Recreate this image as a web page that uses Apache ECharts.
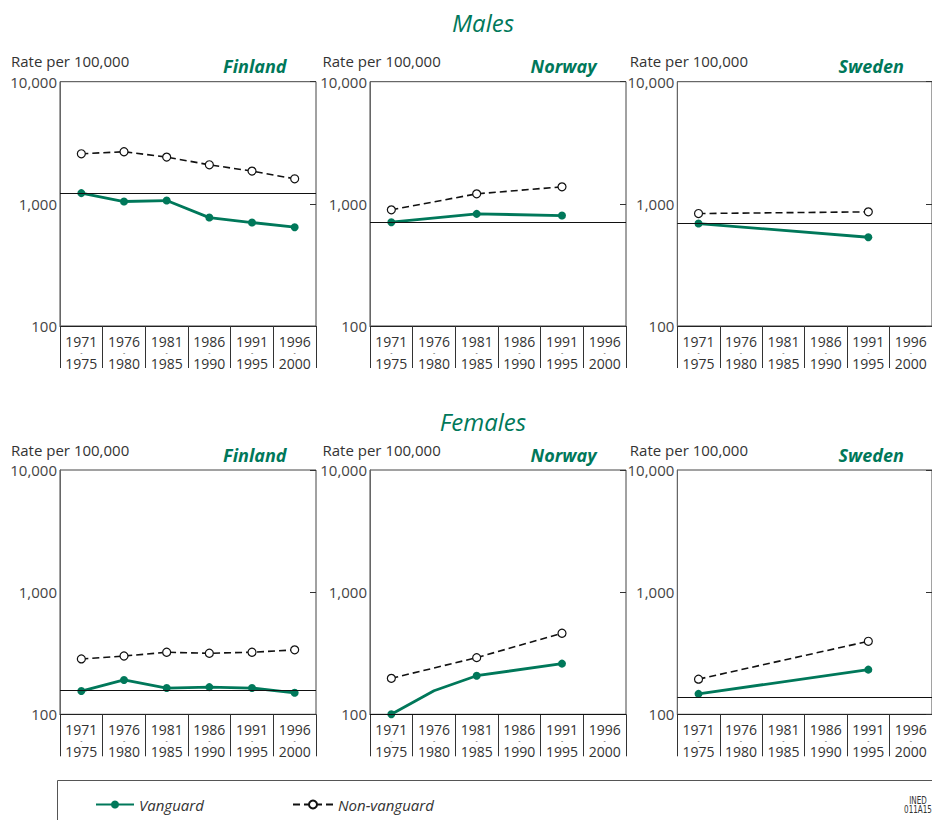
<!DOCTYPE html>
<html>
<head>
<meta charset="utf-8">
<script src="https://cdn.jsdelivr.net/npm/echarts@6/dist/echarts.min.js"></script>
<style>
  html, body { margin: 0; padding: 0; background: #fff; }
  #chart { width: 932px; height: 820px; }
</style>
</head>
<body>
<div id="chart"></div>
<script>
// Five-year periods on the x axis
const periodStart = ['1971', '1976', '1981', '1986', '1991', '1996'];
const periodEnd   = ['1975', '1980', '1985', '1990', '1995', '2000'];

// Rates per 100,000 (null = period not observed)
const malesFinlandVanguard      = [1224, 1045, 1064, 772, 703, 644];
const malesFinlandNonVanguard   = [2570, 2670, 2414, 2088, 1854, 1603];
const malesNorwayVanguard       = [708, null, 828, null, 802, null];
const malesNorwayNonVanguard    = [893, null, 1208, null, 1378, null];
const malesSwedenVanguard       = [690, null, null, null, 533, null];
const malesSwedenNonVanguard    = [833, null, null, null, 860, null];

const femalesFinlandVanguard    = [155, 191, 164, 167, 164, 150];
const femalesFinlandNonVanguard = [284, 300, 322, 316, 322, 337];
const femalesNorwayVanguard     = [100, 156, 207, null, 260, null];
const femalesNorwayNonVanguard  = [197, null, 291, null, 461, null];
const femalesSwedenVanguard     = [147, null, null, null, 232, null];
const femalesSwedenNonVanguard  = [194, null, null, null, 396, null];

// Horizontal reference rate per panel (Finland, Norway, Sweden)
const malesReference   = [1224, 712, 690];
const femalesReference = [156, 100, 138];

// Vertices of a line drawn without a marker
const femalesNorwayVanguardUnmarked = [1];

const countries = ['Finland', 'Norway', 'Sweden'];
const sexes = ['Males', 'Females'];
const seriesNames = ['Vanguard', 'Non-vanguard'];

// ---- layout & styles ----
const GREEN = '#00785a';
const INK = '#222';
const FONT = '"Open Sans", "Noto Sans", sans-serif';
const colLeft = [60, 370, 677.3];
const colWidth = [256, 256, 255.7];
const rowTop = [81.7, 470];
const plotHeight = 244.3;

const panels = [
  { row: 0, col: 0, v: malesFinlandVanguard,   nv: malesFinlandNonVanguard,   ref: malesReference[0],   unmarked: [] },
  { row: 0, col: 1, v: malesNorwayVanguard,    nv: malesNorwayNonVanguard,    ref: malesReference[1],   unmarked: [] },
  { row: 0, col: 2, v: malesSwedenVanguard,    nv: malesSwedenNonVanguard,    ref: malesReference[2],   unmarked: [] },
  { row: 1, col: 0, v: femalesFinlandVanguard, nv: femalesFinlandNonVanguard, ref: femalesReference[0], unmarked: [] },
  { row: 1, col: 1, v: femalesNorwayVanguard,  nv: femalesNorwayNonVanguard,  ref: femalesReference[1], unmarked: femalesNorwayVanguardUnmarked },
  { row: 1, col: 2, v: femalesSwedenVanguard,  nv: femalesSwedenNonVanguard,  ref: femalesReference[2], unmarked: [] }
];

const grids = [], xAxes = [], yAxes = [], series = [], graphics = [];

panels.forEach((p, i) => {
  grids.push({
    left: colLeft[p.col], top: rowTop[p.row], width: colWidth[p.col], height: plotHeight,
    show: true, borderColor: '#444', borderWidth: 1, backgroundColor: 'transparent'
  });
  xAxes.push({
    gridIndex: i, type: 'category', boundaryGap: true,
    data: periodStart.map((s, k) => s + '-' + periodEnd[k]),
    axisLine: { show: true, lineStyle: { color: INK, width: 1 } },
    axisTick: { show: true, interval: 0, length: 42, lineStyle: { color: '#333', width: 1 } },
    axisLabel: {
      interval: 0, margin: 8, color: '#333', fontFamily: FONT,
      formatter: (val) => {
        const [a, b] = val.split('-');
        return '{y|' + a + '}\n{d|-}\n{y|' + b + '}';
      },
      rich: {
        y: { fontSize: 14, lineHeight: 14, color: '#333', fontFamily: FONT },
        d: { fontSize: 7, lineHeight: 8, color: '#333', fontFamily: FONT }
      }
    },
    splitLine: { show: false }
  });
  const yBase = {
    gridIndex: i, type: 'log', logBase: 10, min: 100, max: 10000,
    splitLine: { show: false }, minorTick: { show: false }
  };
  yAxes.push(Object.assign({}, yBase, {
    position: 'left',
    axisLine: { show: true, lineStyle: { color: '#666', width: 1 } },
    axisTick: { show: false },
    axisLabel: {
      margin: 3, fontSize: 15, color: '#444', fontFamily: FONT,
      formatter: (v) => Math.round(v).toLocaleString('en-US')
    }
  }));
  yAxes.push(Object.assign({}, yBase, {
    position: 'right',
    axisLine: { show: false },
    axisTick: { show: true, inside: true, length: 6, lineStyle: { color: '#333' } },
    axisLabel: { show: false }
  }));

  series.push({
    name: seriesNames[0], type: 'line', xAxisIndex: i, yAxisIndex: 2 * i,
    data: p.v.map((v, k) => (p.unmarked.includes(k) && v != null) ? { value: v, symbol: 'none' } : v),
    connectNulls: true, symbol: 'circle', symbolSize: 8, z: 3,
    lineStyle: { color: GREEN, width: 2.8 },
    itemStyle: { color: GREEN },
    markLine: {
      silent: true, symbol: 'none', label: { show: false },
      lineStyle: { color: '#111', width: 1, type: 'solid' },
      data: [{ yAxis: p.ref }]
    }
  });
  series.push({
    name: seriesNames[1], type: 'line', xAxisIndex: i, yAxisIndex: 2 * i,
    data: p.nv, connectNulls: true, symbol: 'circle', symbolSize: 8, z: 4,
    lineStyle: { color: '#111', width: 1.6, type: [7, 4] },
    itemStyle: { color: '#fff', borderColor: '#111', borderWidth: 1.2 }
  });

  // panel captions
  const capY = rowTop[p.row] - 20.5;
  graphics.push({
    type: 'text', x: colLeft[p.col] - (p.col === 0 ? 49 : 47.5), y: capY,
    style: { text: 'Rate per 100,000', font: '15px ' + FONT, fill: '#333',
             textAlign: 'left', textVerticalAlign: 'middle' }
  });
  graphics.push({
    type: 'text', x: colLeft[p.col] + 226.5, y: capY + 5,
    style: { text: countries[p.col], font: 'italic bold 18px ' + FONT, fill: GREEN,
             textAlign: 'right', textVerticalAlign: 'middle' }
  });
});

// section headings
graphics.push({
  type: 'text', x: 483, y: 22,
  style: { text: sexes[0], font: 'italic 24px ' + FONT, fill: GREEN, textAlign: 'center', textVerticalAlign: 'middle' }
});
graphics.push({
  type: 'text', x: 483, y: 421,
  style: { text: sexes[1], font: 'italic 24px ' + FONT, fill: GREEN, textAlign: 'center', textVerticalAlign: 'middle' }
});

// legend frame and source code
graphics.push({
  type: 'rect', shape: { x: 57.5, y: 780.5, width: 900, height: 80 },
  style: { fill: 'none', stroke: '#555', lineWidth: 1 }, silent: true
});
const codeFont = '10px "DejaVu Sans Condensed", "Liberation Sans Narrow", sans-serif';
graphics.push({
  type: 'text', x: 918, y: 801, scaleX: 0.8, originX: 0, originY: 0,
  style: { text: 'INED', font: codeFont, fill: '#333', textAlign: 'center', textVerticalAlign: 'middle' }
});
graphics.push({
  type: 'text', x: 918, y: 810, scaleX: 0.8, originX: 0, originY: 0,
  style: { text: '011A15', font: codeFont, fill: '#333', textAlign: 'center', textVerticalAlign: 'middle' }
});

const legendText = { fontStyle: 'italic', fontSize: 15, color: '#333', fontFamily: FONT };
const chart = echarts.init(document.getElementById('chart'), null, { renderer: 'svg', width: 932, height: 820 });
chart.setOption({
  animation: false,
  backgroundColor: '#fff',
  grid: grids,
  xAxis: xAxes,
  yAxis: yAxes,
  series: series,
  legend: [
    { data: [seriesNames[0]], left: 95, top: 797, padding: 0, itemWidth: 38, itemHeight: 10, itemGap: 5,
      textStyle: legendText, selectedMode: false },
    { data: [seriesNames[1]], left: 292, top: 797, padding: 0, itemWidth: 40, itemHeight: 10, itemGap: 5,
      textStyle: legendText, selectedMode: false }
  ],
  graphic: graphics
});
</script>
</body>
</html>
